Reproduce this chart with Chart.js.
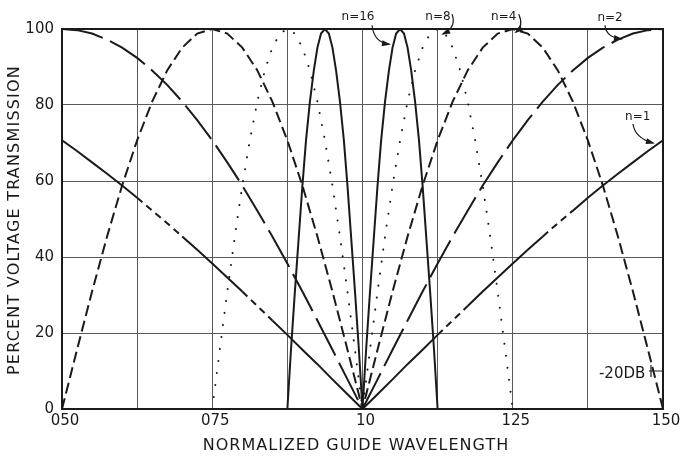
<!DOCTYPE html>
<html>
<head>
<meta charset="utf-8">
<script src="https://cdn.jsdelivr.net/npm/chart.js@4.4.0/dist/chart.umd.min.js"></script>
<style>
  html, body { margin: 0; padding: 0; background: #fff; }
</style>
</head>
<body>
<canvas id="chart" width="685" height="458"></canvas>
<script>
// Wavelength samples (0.025 apart) shared by the n=1, n=2 and n=4 curves.
const X_WIDE = [0.500, 0.525, 0.550, 0.575, 0.600, 0.625, 0.650, 0.675, 0.700, 0.725,
  0.750, 0.775, 0.800, 0.825, 0.850, 0.875, 0.900, 0.925, 0.950, 0.975,
  1.000, 1.025, 1.050, 1.075, 1.100, 1.125, 1.150, 1.175, 1.200, 1.225,
  1.250, 1.275, 1.300, 1.325, 1.350, 1.375, 1.400, 1.425, 1.450, 1.475, 1.500];
const X_N8 = [0.750, 0.7625, 0.775, 0.7875, 0.800, 0.8125, 0.825, 0.8375, 0.850, 0.8625,
  0.875, 0.8875, 0.900, 0.9125, 0.925, 0.9375, 0.950, 0.9625, 0.975, 0.9875,
  1.000, 1.0125, 1.025, 1.0375, 1.050, 1.0625, 1.075, 1.0875, 1.100, 1.1125,
  1.125, 1.1375, 1.150, 1.1625, 1.175, 1.1875, 1.200, 1.2125, 1.225, 1.2375, 1.250];
const X_N16 = [0.875, 0.881, 0.8875, 0.894, 0.900, 0.906, 0.9125, 0.919, 0.925, 0.931,
  0.9375, 0.944, 0.950, 0.956, 0.9625, 0.969, 0.975, 0.981, 0.9875, 0.994,
  1.000, 1.006, 1.0125, 1.019, 1.025, 1.031, 1.0375, 1.044, 1.050, 1.056,
  1.0625, 1.069, 1.075, 1.081, 1.0875, 1.094, 1.100, 1.106, 1.1125, 1.119, 1.125];

// Percent voltage transmission.
const N1 = [70.7, 67.9, 64.9, 61.9, 58.8, 55.6, 52.2, 48.9, 45.4, 41.9, 38.3, 34.6, 30.9, 27.1, 23.3, 19.5, 15.6, 11.8, 7.8, 3.9,
  0, 3.9, 7.8, 11.8, 15.6, 19.5, 23.3, 27.1, 30.9, 34.6, 38.3, 41.9, 45.4, 48.9, 52.2, 55.6, 58.8, 61.9, 64.9, 67.9, 70.7];
const N2 = [100, 99.7, 98.8, 97.2, 95.1, 92.4, 89.1, 85.3, 80.9, 76.0, 70.7, 64.9, 58.8, 52.2, 45.4, 38.3, 30.9, 23.3, 15.6, 7.8,
  0, 7.8, 15.6, 23.3, 30.9, 38.3, 45.4, 52.2, 58.8, 64.9, 70.7, 76.0, 80.9, 85.3, 89.1, 92.4, 95.1, 97.2, 98.8, 99.7, 100];
const N4 = [0, 15.6, 30.9, 45.4, 58.8, 70.7, 80.9, 89.1, 95.1, 98.8, 100, 98.8, 95.1, 89.1, 80.9, 70.7, 58.8, 45.4, 30.9, 15.6,
  0, 15.6, 30.9, 45.4, 58.8, 70.7, 80.9, 89.1, 95.1, 98.8, 100, 98.8, 95.1, 89.1, 80.9, 70.7, 58.8, 45.4, 30.9, 15.6, 0];
const N8 = [0, 15.6, 30.9, 45.4, 58.8, 70.7, 80.9, 89.1, 95.1, 98.8, 100, 98.8, 95.1, 89.1, 80.9, 70.7, 58.8, 45.4, 30.9, 15.6,
  0, 15.6, 30.9, 45.4, 58.8, 70.7, 80.9, 89.1, 95.1, 98.8, 100, 98.8, 95.1, 89.1, 80.9, 70.7, 58.8, 45.4, 30.9, 15.6, 0];
const N16 = [0, 15.6, 30.9, 45.4, 58.8, 70.7, 80.9, 89.1, 95.1, 98.8, 100, 98.8, 95.1, 89.1, 80.9, 70.7, 58.8, 45.4, 30.9, 15.6,
  0, 15.6, 30.9, 45.4, 58.8, 70.7, 80.9, 89.1, 95.1, 98.8, 100, 98.8, 95.1, 89.1, 80.9, 70.7, 58.8, 45.4, 30.9, 15.6, 0];

// Axis ticks: grid every 0.125, but only the quarter marks carry a label.
const X_TICK_VALUES = [0.5, 0.75, 1.0, 1.25, 1.5];
const X_TICK_LABELS = ["050", "075", "10", "125", "150"];
const Y_TICKS = [0, 20, 40, 60, 80, 100];

const X_TITLE = "NORMALIZED GUIDE WAVELENGTH";
const Y_TITLE = "PERCENT VOLTAGE TRANSMISSION";

// Curve callouts, placed in data units so they ride with the scales.
const NOTES = [
  { text: "n=16", x: 0.9925, y: 103.2 },
  { text: "n=8", x: 1.1256, y: 103.2 },
  { text: "n=4", x: 1.235, y: 103.2 },
  { text: "n=2", x: 1.412, y: 102.9 },
  { text: "n=1", x: 1.458, y: 76.8 },
];
const ARROWS = [
  { from: [1.0158, 101.0], ctrl: [1.019, 96.5], to: [1.0441, 96.0] },
  { from: [1.149, 103.9], ctrl: [1.157, 100.5], to: [1.134, 98.7] },
  { from: [1.260, 103.9], ctrl: [1.2687, 100.8], to: [1.2554, 99.2] },
  { from: [1.4035, 101.0], ctrl: [1.405, 97.9], to: [1.430, 97.4] },
  { from: [1.450, 75.0], ctrl: [1.4534, 71.3], to: [1.4834, 70.0] },
];
const DB_MARK = { text: "-20DB", x: 1.432, y: 9.2, level: 10 };

// Stretches of the n=1 line that the draftsman drew broken.
const N1_DASHED = [[0.625, 0.70], [0.80, 0.85], [1.125, 1.175], [1.30, 1.35]];

const INK = "#1a1a1a";
const GRID = "#5a5a5a";
const FONT = '"DejaVu Sans", sans-serif';

const pts = (xs, ys) => xs.map((x, i) => ({ x, y: ys[i] }));

function curve(label, xs, ys, extra) {
  return Object.assign({
    label,
    data: pts(xs, ys),
    borderColor: INK,
    borderWidth: 2,
    pointRadius: 0,
    tension: 0,
    fill: false,
  }, extra);
}

const paperPlugin = {
  id: "paper",
  beforeDraw(chart) {
    const { ctx } = chart;
    ctx.save();
    ctx.fillStyle = "#fff";
    ctx.fillRect(0, 0, chart.width, chart.height);
    ctx.restore();
  },
  afterDraw(chart) {
    const { ctx, chartArea: a, scales: { x, y } } = chart;
    ctx.save();
    ctx.strokeStyle = INK;
    ctx.fillStyle = INK;
    ctx.lineWidth = 2;
    ctx.strokeRect(a.left, a.top, a.right - a.left, a.bottom - a.top);

    ctx.textAlign = "center";
    ctx.textBaseline = "middle";
    ctx.font = "12px " + FONT;
    for (const n of NOTES) ctx.fillText(n.text, x.getPixelForValue(n.x), y.getPixelForValue(n.y));

    ctx.lineWidth = 1.2;
    for (const ar of ARROWS) {
      const p0 = [x.getPixelForValue(ar.from[0]), y.getPixelForValue(ar.from[1])];
      const c = [x.getPixelForValue(ar.ctrl[0]), y.getPixelForValue(ar.ctrl[1])];
      const p1 = [x.getPixelForValue(ar.to[0]), y.getPixelForValue(ar.to[1])];
      ctx.beginPath();
      ctx.moveTo(p0[0], p0[1]);
      ctx.quadraticCurveTo(c[0], c[1], p1[0], p1[1]);
      ctx.stroke();
      const ang = Math.atan2(p1[1] - c[1], p1[0] - c[0]);
      ctx.beginPath();
      ctx.moveTo(p1[0] + 2 * Math.cos(ang), p1[1] + 2 * Math.sin(ang));
      ctx.lineTo(p1[0] - 7 * Math.cos(ang) + 3 * Math.sin(ang), p1[1] - 7 * Math.sin(ang) - 3 * Math.cos(ang));
      ctx.lineTo(p1[0] - 7 * Math.cos(ang) - 3 * Math.sin(ang), p1[1] - 7 * Math.sin(ang) + 3 * Math.cos(ang));
      ctx.closePath();
      ctx.fill();
    }

    // -20 dB reference tick against the right edge
    ctx.font = "15px " + FONT;
    ctx.fillText(DB_MARK.text, x.getPixelForValue(DB_MARK.x), y.getPixelForValue(DB_MARK.y));
    const ly = y.getPixelForValue(DB_MARK.level);
    const lx = x.getPixelForValue(1.48);
    ctx.lineWidth = 1.2;
    ctx.beginPath();
    ctx.moveTo(lx - 2, ly);
    ctx.lineTo(a.right, ly);
    ctx.moveTo(lx, ly - 6);
    ctx.lineTo(lx, ly + 6);
    ctx.stroke();

    // axis titles, spaced out like stencil lettering
    ctx.font = "16px " + FONT;
    ctx.letterSpacing = "1px";
    ctx.fillText(X_TITLE, 356, 446);
    ctx.translate(15, 220);
    ctx.rotate(-Math.PI / 2);
    ctx.letterSpacing = "1.2px";
    ctx.fillText(Y_TITLE, 0, 0);
    ctx.restore();
  },
};

new Chart(document.getElementById("chart"), {
  type: "line",
  data: {
    datasets: [
      curve("n=1", X_WIDE, N1, {
        segment: {
          borderDash: (c) => {
            const mid = (c.p0.parsed.x + c.p1.parsed.x) / 2;
            return N1_DASHED.some(([a, b]) => mid > a && mid < b) ? [7, 5] : undefined;
          },
        },
      }),
      curve("n=2", X_WIDE, N2, { borderDash: [42, 8] }),
      curve("n=4", X_WIDE, N4, { borderDash: [11, 5] }),
      curve("n=8", X_N8, N8, { borderDash: [0.1, 12], borderCapStyle: "round", borderWidth: 2 }),
      curve("n=16", X_N16, N16, {}),
    ],
  },
  options: {
    responsive: false,
    devicePixelRatio: 1,
    animation: false,
    layout: { padding: { top: 29, right: 22, left: 0, bottom: 0 } },
    plugins: { legend: { display: false }, tooltip: { enabled: false } },
    scales: {
      x: {
        type: "linear",
        min: 0.5,
        max: 1.5,
        afterFit: (s) => { s.height = 49; },
        afterBuildTicks: (s) => {
          const t = [];
          for (let v = 0.5; v <= 1.5001; v += 0.125) t.push({ value: v });
          s.ticks = t;
        },
        ticks: {
          autoSkip: false,
          maxRotation: 0,
          padding: 3,
          labelOffset: 3,
          color: INK,
          font: { family: FONT, size: 15 },
          callback: (v) => {
            const i = X_TICK_VALUES.findIndex((q) => Math.abs(q - v) < 1e-6);
            return i >= 0 ? X_TICK_LABELS[i] : "";
          },
        },
        grid: { color: GRID, lineWidth: 1, drawTicks: false },
        border: { display: false },
      },
      y: {
        min: 0,
        max: 100,
        afterFit: (s) => { s.width = 62; },
        afterBuildTicks: (s) => { s.ticks = Y_TICKS.map((v) => ({ value: v })); },
        ticks: { padding: 8, color: INK, font: { family: FONT, size: 15 } },
        grid: { color: GRID, lineWidth: 1, drawTicks: false },
        border: { display: false },
      },
    },
  },
  plugins: [paperPlugin],
});
</script>
</body>
</html>
